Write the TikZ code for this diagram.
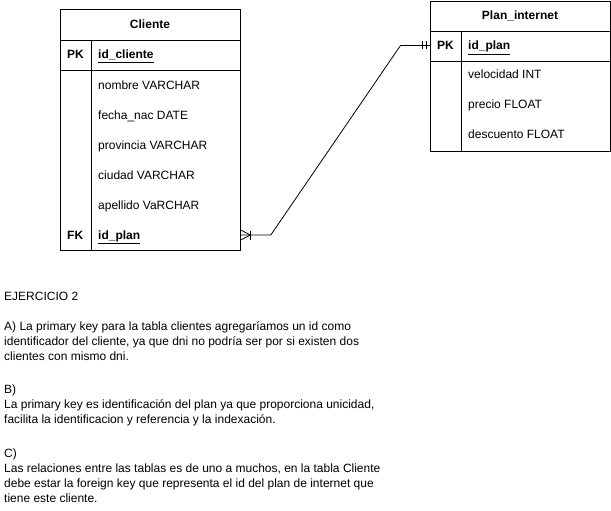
\documentclass[tikz,border=0pt]{standalone}
\usepackage{fontspec}
\setmainfont{Liberation Sans}
\usetikzlibrary{calc}
\begin{document}
\begin{tikzpicture}[x=1pt,y=-1pt,
  tbl/.style={draw,line width=0.8pt,inner sep=0pt,minimum width=180pt,anchor=north west},
  hdr/.style={font=\fontsize{12}{14}\selectfont\bfseries,inner sep=0pt},
  fld/.style={font=\fontsize{12}{14}\selectfont,anchor=base west,inner sep=0pt},
  key/.style={font=\fontsize{12}{14}\selectfont\bfseries,anchor=base west,inner sep=0pt},
  txt/.style={font=\fontsize{12}{15}\selectfont,anchor=base west,inner sep=0pt},
  rel/.style={line width=0.8pt}]
\useasboundingbox (0,0) rectangle (611,511);
% Cliente table
\node[tbl,minimum height=241pt] (cliente) at (60,9) {};
\draw[line width=0.8pt] (60,40) -- (240,40);
\draw[line width=0.8pt] (60,70) -- (240,70);
\draw[line width=0.8pt] (91,40) -- (91,250);
\node[hdr] (clientetitle) at (150,24.5) {Cliente};
\node[key] (cpk) at (67,59) {PK};
\node[key] (cpkf) at (98,59) {\underline{id\_cliente}};
\node[fld] (c1) at (98,89.5) {nombre VARCHAR};
\node[fld] (c2) at (98,119.5) {fecha\_nac DATE};
\node[fld] (c3) at (98,149.5) {provincia VARCHAR};
\node[fld] (c4) at (98,179.5) {ciudad VARCHAR};
\node[fld] (c5) at (98,209.5) {apellido VaRCHAR};
\node[key] (cfk) at (67,239.5) {FK};
\node[key] (cfkf) at (98,239.5) {\underline{id\_plan}};
% Plan_internet table
\node[tbl,minimum height=150pt] (plan) at (430,1) {};
\draw[line width=0.8pt] (430,31) -- (610,31);
\draw[line width=0.8pt] (430,61) -- (610,61);
\draw[line width=0.8pt] (461,31) -- (461,151);
\node[hdr] (plantitle) at (520,16) {Plan\_internet};
\node[key] (ppk) at (437,50) {PK};
\node[key] (ppkf) at (468,50) {\underline{id\_plan}};
\node[fld] (p1) at (468,79) {velocidad INT};
\node[fld] (p2) at (468,109) {precio FLOAT};
\node[fld] (p3) at (468,139) {descuento FLOAT};
% relationship
\coordinate (cend) at (cliente.east |- 0,235);
\coordinate (pend) at (plan.west |- 0,45.5);
\draw[rel] (cend) -- ++(30,0) -- ($(pend)+(-29.5,0)$) -- (pend);
\draw[rel] ($(cend)+(9.5,-4.5)$) -- ++(0,9);
\draw[rel] ($(cend)+(9.5,0)$) -- ($(cend)+(0,-5)$);
\draw[rel] ($(cend)+(9.5,0)$) -- ($(cend)+(0,5)$);
\draw[rel] ($(pend)+(-7.5,-4)$) -- ++(0,8);
\draw[rel] ($(pend)+(-4,-4)$) -- ++(0,8);
% text
\node[txt] (t0) at (4,300) {EJERCICIO 2};
\node[txt] (ta1) at (4,330) {A) La primary key para la tabla clientes agregaríamos un id como};
\node[txt] (ta2) at (4,345) {identificador del cliente, ya que dni no podría ser por si existen dos};
\node[txt] (ta3) at (4,360) {clientes con mismo dni.};
\node[txt] (tb0) at (4,393) {B)};
\node[txt] (tb1) at (4,408) {La primary key es identificación del plan ya que proporciona unicidad,};
\node[txt] (tb2) at (4,423.5) {facilita la identificacion y referencia y la indexación.};
\node[txt] (tc0) at (4,457) {C)};
\node[txt] (tc1) at (4,472) {Las relaciones entre las tablas es de uno a muchos, en la tabla Cliente};
\node[txt] (tc2) at (4,487) {debe estar la foreign key que representa el id del plan de internet que};
\node[txt] (tc3) at (4,502.5) {tiene este cliente.};
\end{tikzpicture}
\end{document}
